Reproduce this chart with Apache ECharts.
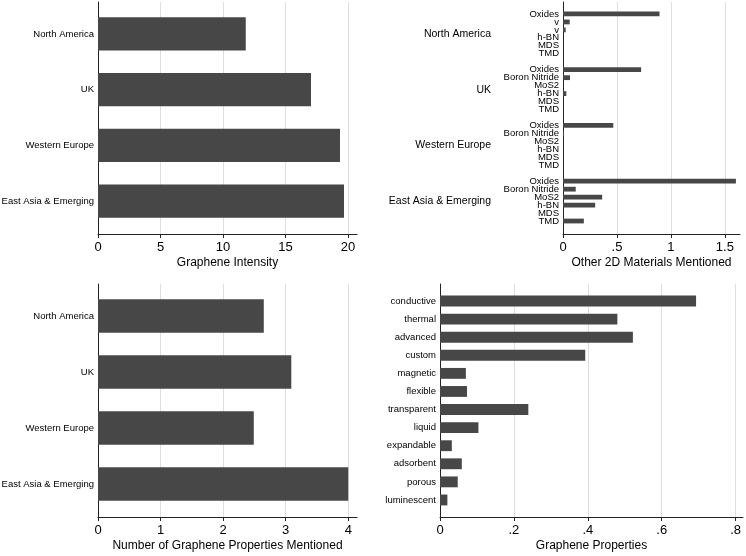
<!DOCTYPE html>
<html>
<head>
<meta charset="utf-8">
<script src="https://cdn.jsdelivr.net/npm/echarts@6/dist/echarts.min.js"></script>
<style>
  html, body { margin: 0; padding: 0; background: #fff; }
  #chart { width: 746px; height: 556px; }
</style>
</head>
<body>
<div id="chart"></div>
<script>
// regions (top-left and bottom-left panels)
const regions = ['North America', 'UK', 'Western Europe', 'East Asia & Emerging']
const intensity = [11.82, 17.04, 19.36, 19.68]
const intensityTicks = [0, 5, 10, 15, 20]
const propsCount = [2.65, 3.09, 2.49, 4.0]
const propsCountTicks = [0, 1, 2, 3, 4]

// other 2D materials, one list per region
const matLabels = [
  ['Oxides', 'v', 'v', 'h-BN', 'MDS', 'TMD'],
  ['Oxides', 'Boron Nitride', 'MoS2', 'h-BN', 'MDS', 'TMD'],
  ['Oxides', 'Boron Nitride', 'MoS2', 'h-BN', 'MDS', 'TMD'],
  ['Oxides', 'Boron Nitride', 'MoS2', 'h-BN', 'MDS', 'TMD']
]
const matValues = [
  [0.894, 0.062, 0.025, 0, 0, 0],
  [0.724, 0.065, 0, 0.031, 0, 0],
  [0.466, 0.008, 0, 0, 0, 0],
  [1.602, 0.118, 0.363, 0.298, 0, 0.193]
]
const matTicks = [0, 0.5, 1, 1.5]

// graphene properties (bottom-right)
const properties = ['conductive', 'thermal', 'advanced', 'custom', 'magnetic', 'flexible',
  'transparent', 'liquid', 'expandable', 'adsorbent', 'porous', 'luminescent']
const propertyShare = [0.693, 0.480, 0.522, 0.393, 0.070, 0.073, 0.239, 0.104, 0.032, 0.059, 0.048, 0.020]
const propertyTicks = [0, 0.2, 0.4, 0.6, 0.8]

const FONT = '"Liberation Sans", Arial, sans-serif'
const BAR = '#474747'
const AXIS = '#222'

function fmt(v) {
  return String(v).replace(/^0\./, '.')
}

// materials: blank category between regions
const matCats = []
const matData = []
const groupCenters = []
matLabels.forEach((labels, g) => {
  if (g > 0) {
    matCats.push('')
    matData.push(null)
  }
  groupCenters.push(matCats.length + labels.length / 2)
  labels.forEach((l, i) => {
    matCats.push(l)
    matData.push(matValues[g][i])
  })
})

function grid(left, right, top, bottom) {
  // fixed plot areas, labels may run to the edge
  return { left: left, right: right, top: top, bottom: bottom, containLabel: false, outerBoundsMode: 'none' }
}
function outerX(gridIndex, max, ticks, name) {
  return {
    gridIndex: gridIndex,
    type: 'value',
    min: 0,
    max: max,
    name: name,
    nameLocation: 'middle',
    nameGap: 23,
    nameTextStyle: { fontFamily: FONT, fontSize: 12, color: '#000' },
    axisLine: { show: true, lineStyle: { color: AXIS, width: 1 } },
    axisTick: { show: true, length: 4, customValues: ticks, lineStyle: { color: AXIS } },
    axisLabel: { customValues: ticks, formatter: fmt, margin: 7, fontFamily: FONT, fontSize: 13, color: '#000' },
    splitLine: { show: true, lineStyle: { color: '#dedede', width: 1 } }
  }
}
function outerY(gridIndex) {
  return {
    gridIndex: gridIndex,
    type: 'value',
    min: 0,
    max: 1,
    axisLine: { show: true, lineStyle: { color: AXIS, width: 1 } },
    axisTick: { show: false },
    axisLabel: { show: false },
    splitLine: { show: false }
  }
}
function innerX(gridIndex, max) {
  return { gridIndex: gridIndex, type: 'value', min: 0, max: max, show: false }
}
function innerY(gridIndex, cats, fontSize) {
  return {
    gridIndex: gridIndex,
    type: 'category',
    inverse: true,
    data: cats,
    axisLine: { show: false },
    axisTick: { show: false },
    splitLine: { show: false },
    axisLabel: { interval: 0, margin: 4, fontFamily: FONT, fontSize: fontSize, color: '#000' }
  }
}
function bars(idx, data) {
  return {
    type: 'bar',
    xAxisIndex: idx,
    yAxisIndex: idx,
    data: data,
    barWidth: '60%',
    silent: true,
    itemStyle: { color: BAR }
  }
}

const chart = echarts.init(document.getElementById('chart'), null, { renderer: 'canvas' })
chart.setOption({
  animation: false,
  backgroundColor: '#fff',
  textStyle: { fontFamily: FONT },
  grid: [
    // top-left
    grid(98, 389, 2, 322),
    grid(98, 389, 6, 327),
    // top-right
    grid(563, 6, 2, 322),
    grid(563, 6, 10, 331),
    // bottom-left
    grid(98, 389, 284, 39),
    grid(98, 389, 288, 44),
    // bottom-right
    grid(440, 3, 284, 39),
    grid(440, 3, 292, 47)
  ],
  xAxis: [
    outerX(0, 20.72, intensityTicks, 'Graphene Intensity'),
    innerX(1, 20.72),
    outerX(2, 1.64, matTicks, 'Other 2D Materials Mentioned'),
    innerX(3, 1.64),
    outerX(4, 4.14, propsCountTicks, 'Number of Graphene Properties Mentioned'),
    innerX(5, 4.14),
    outerX(6, 0.82, propertyTicks, 'Graphene Properties'),
    innerX(7, 0.82)
  ],
  yAxis: [
    outerY(0),
    innerY(1, regions, 9.5),
    outerY(2),
    innerY(3, matCats, 9.5),
    outerY(4),
    innerY(5, regions, 9.5),
    outerY(6),
    innerY(7, properties, 9.5),
    {
      gridIndex: 3,
      type: 'value',
      min: 0,
      max: matCats.length,
      inverse: true,
      position: 'left',
      axisLine: { show: false },
      axisTick: { show: false },
      splitLine: { show: false },
      axisLabel: {
        customValues: groupCenters,
        formatter: (v) => regions[groupCenters.indexOf(v)],
        margin: 72,
        fontFamily: FONT,
        fontSize: 10.5,
        color: '#000'
      }
    }
  ],
  series: [
    bars(1, intensity),
    bars(3, matData),
    bars(5, propsCount),
    bars(7, propertyShare)
  ]
})
</script>
</body>
</html>
